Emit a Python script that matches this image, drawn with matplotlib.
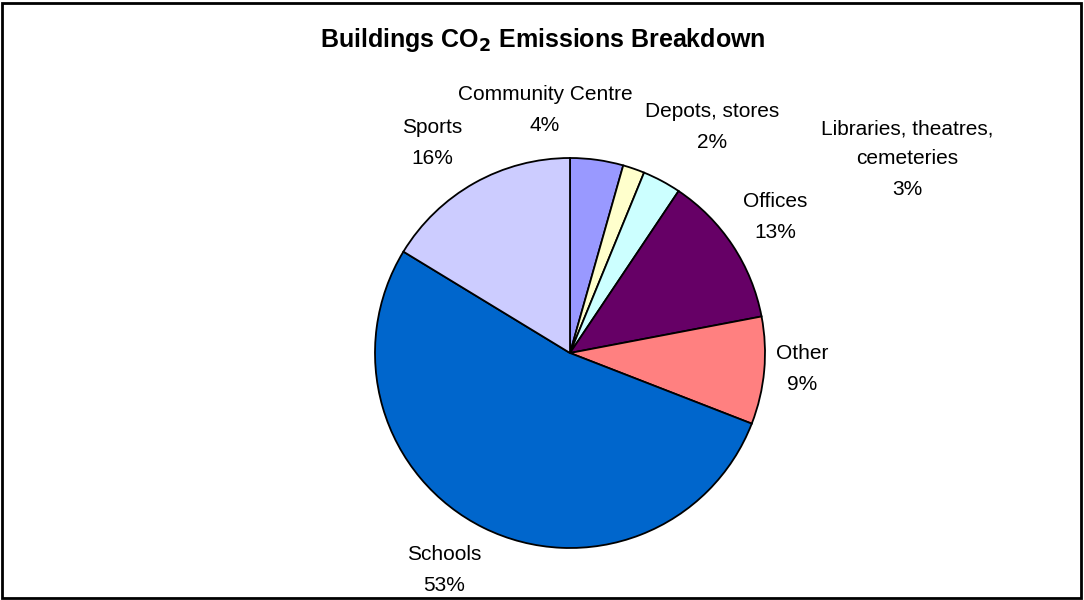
import matplotlib.pyplot as plt
from matplotlib.patches import Rectangle

plt.rcParams['font.family'] = ['Liberation Sans', 'DejaVu Sans']

# datos
categorias = ['Community Centre', 'Depots, stores', 'Libraries, theatres,\ncemeteries',
              'Offices', 'Other', 'Schools', 'Sports']
valores = [4.4, 1.8, 3.2, 12.6, 8.9, 52.8, 16.3]
colores = ['#9999FF', '#FFFFCC', '#CCFFFF', '#660066', '#FF8080', '#0066CC', '#CCCCFF']

# posicion de las etiquetas (pixeles de la imagen, y hacia abajo)
pos_etiquetas = [(545, 110), (712, 127), (907, 159), (775, 217),
                 (802, 369), (444, 570), (432, 143)]

W, H = 1084, 600
fig = plt.figure(figsize=(W / 100, H / 100), dpi=100)
ax = fig.add_axes([0, 0, 1, 1])
ax.set_xlim(0, W)
ax.set_ylim(0, H)
ax.set_aspect('equal')
ax.axis('off')

ax.pie(valores, colors=colores, startangle=90, counterclock=False,
       center=(570, H - 353), radius=195,
       wedgeprops=dict(edgecolor='black', linewidth=1.3))
ax.set_xlim(0, W)
ax.set_ylim(0, H)

for cat, v, (x, y) in zip(categorias, valores, pos_etiquetas):
    ax.text(x, H - y, f'{cat}\n{v:.0f}%', ha='center', va='center',
            fontsize=15, linespacing=1.75)

ax.text(543, H - 40, 'Buildings CO$_\\mathbf{2}$ Emissions Breakdown',
        ha='center', va='center', fontsize=18, fontweight='bold')

# marco
fig.patches.append(Rectangle((2, 2), W - 5, H - 5, transform=None,
                             fill=False, edgecolor='black', linewidth=2))

fig.savefig('out.png', dpi=100)
